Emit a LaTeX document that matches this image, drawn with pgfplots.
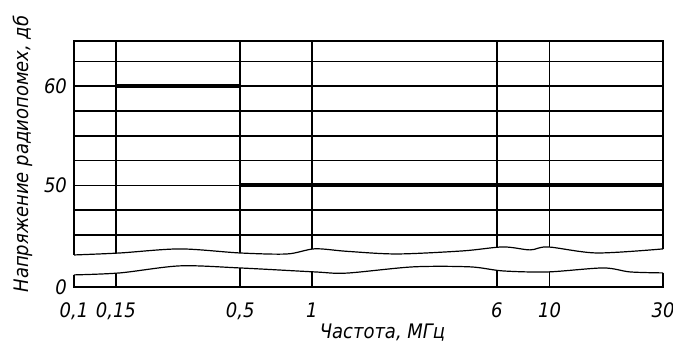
\documentclass[border=0pt]{standalone}
\usepackage{fontspec}
\setmainfont{DejaVu Sans Condensed}
\usepackage{pgfplots}
\pgfplotsset{compat=1.18}
\usepgfplotslibrary{fillbetween}
\begin{document}
\begin{tikzpicture}
\begin{axis}[
  scale only axis, width=294.5pt, height=123pt,
  xmode=log, log basis x=10,
  xmin=0.1, xmax=30, ymin=39.75, ymax=64.55,
  axis line style={draw=none},
  xtick={0.1,0.15,0.5,1,6,10,30},
  xticklabels={{0,1},{0,15},{0,5},1,6,10,30},
  ytick={39.75,45,47.5,50,52.5,55,57.5,60,62.5},
  yticklabels={0,,,50,,,,60,},
  grid=major, grid style={black, line width=0.8pt},
  major tick length=0pt,
  /pgf/number format/assume math mode=true,
  tick label style={font=\itshape\fontsize{10}{11}\selectfont},
  xticklabel style={yshift=-4.5pt},
  xlabel={Частота, МГц},
  ylabel={Напряжение радиопомех, дб},
  label style={font=\itshape\fontsize{10}{11}\selectfont},
  xlabel style={yshift=5pt, xshift=7pt},
  ylabel style={xshift=5pt, yshift=-1pt},
  clip=false,
]
% gap fill between the two wavy break lines
\addplot[name path=up, draw=none, smooth] coordinates {(0.098,42.98)(0.1,42.98)(0.156,43.18)(0.279,43.59)(0.499,43.18)(0.787,43.08)(1.03,43.6)(1.4,43.35)(2.28,43.08)(4.32,43.39)(6.37,43.79)(8.28,43.49)(9.85,43.79)(15.8,43.18)(30,43.59)(30.6,43.59)};
\addplot[name path=lo, draw=none, smooth] coordinates {(0.098,40.97)(0.1,40.97)(0.156,41.17)(0.279,41.88)(0.499,41.67)(1.03,41.27)(1.4,41.15)(2.67,41.78)(4.63,41.78)(6.37,41.37)(9.85,41.27)(16.8,41.67)(21.8,41.27)(30,41.17)(30.6,41.17)};
\addplot[white] fill between[of=up and lo];
% frame pieces
\addplot[line width=0.9pt] coordinates {(0.1,42.98)(0.1,64.55)(30,64.55)(30,43.59)};
\addplot[line width=1.2pt] coordinates {(0.1,40.97)(0.1,39.75)(30,39.75)(30,41.17)};
% wavy break lines
\addplot[line width=0.6pt, smooth] coordinates {(0.1,42.98)(0.156,43.18)(0.279,43.59)(0.499,43.18)(0.787,43.08)(1.03,43.6)(1.4,43.35)(2.28,43.08)(4.32,43.39)(6.37,43.79)(8.28,43.49)(9.85,43.79)(15.8,43.18)(30,43.59)};
\addplot[line width=0.6pt, smooth] coordinates {(0.1,40.97)(0.156,41.17)(0.279,41.88)(0.499,41.67)(1.03,41.27)(1.4,41.15)(2.67,41.78)(4.63,41.78)(6.37,41.37)(9.85,41.27)(16.8,41.67)(21.8,41.27)(30,41.17)};
% limits
\addplot[line width=2pt] coordinates {(0.15,60)(0.5,60)};
\addplot[line width=2pt] coordinates {(0.5,50)(30,50)};
\end{axis}
\pgfresetboundingbox
\path[use as bounding box] ([xshift=-37pt,yshift=-30pt]current axis.south west) rectangle ([xshift=5pt,yshift=20.5pt]current axis.north east);
\end{tikzpicture}
\end{document}
